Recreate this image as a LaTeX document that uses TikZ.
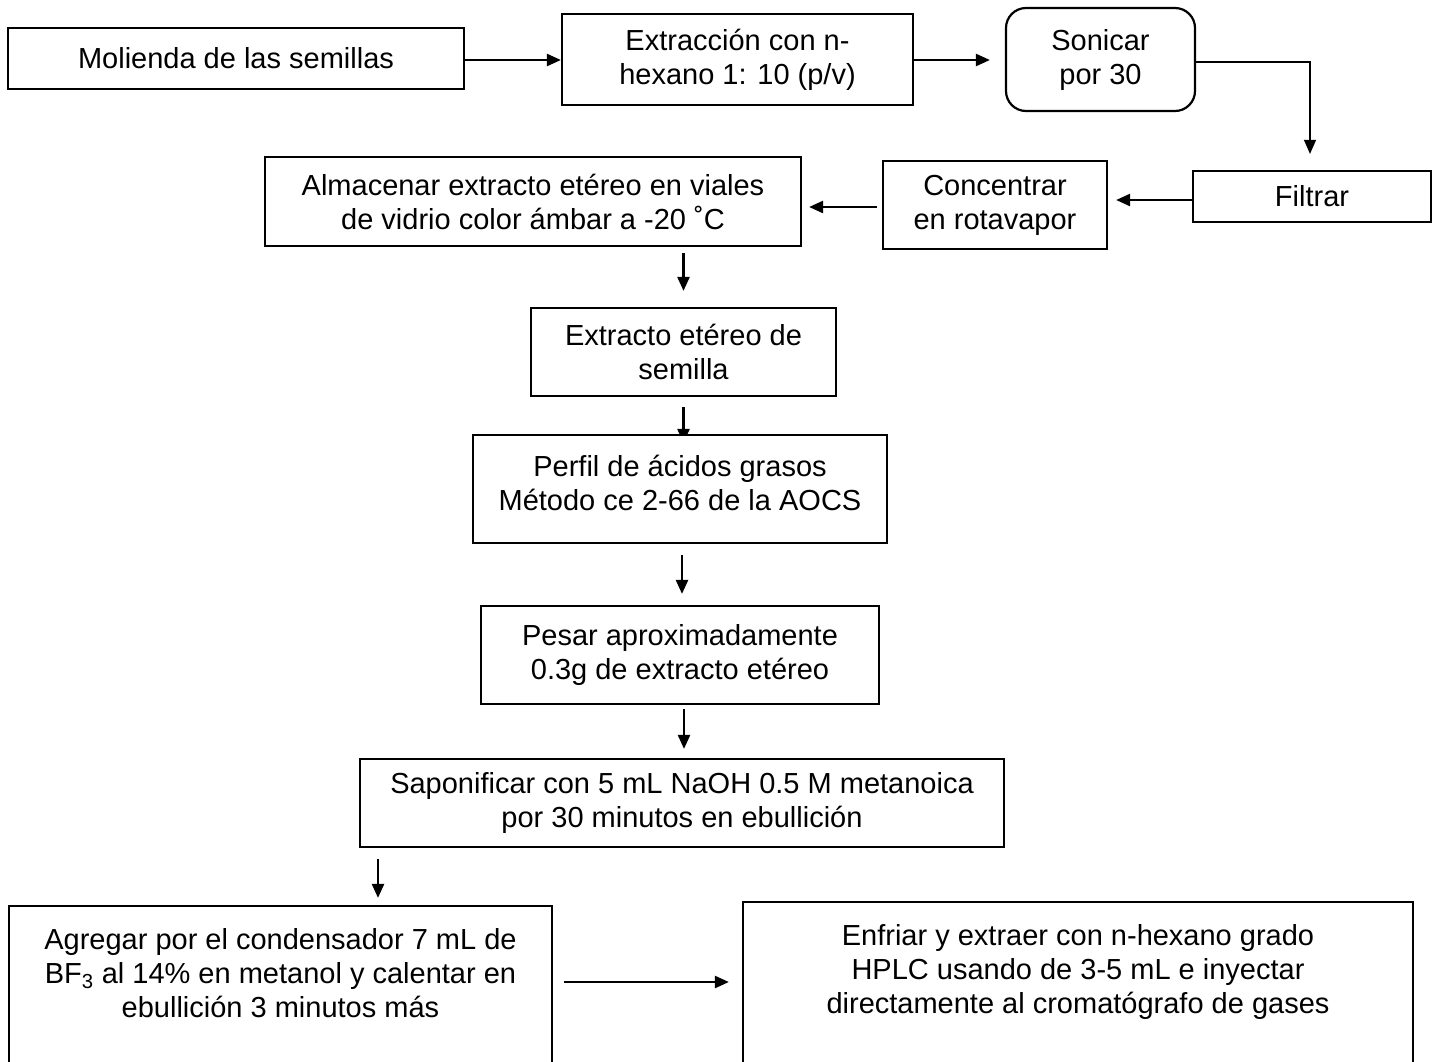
\documentclass[tikz,border=0pt]{standalone}
\usepackage{fontspec}
\setmainfont{Liberation Sans}
\usetikzlibrary{arrows.meta}
\pgfdeclarelayer{bg}
\pgfsetlayers{bg,main}
\tikzset{
  box/.style={draw, line width=2.2pt, fill=white, inner sep=0pt, align=center,
    font=\fontsize{29}{34}\selectfont},
  txt/.style={inner sep=0pt, align=center, font=\fontsize{29}{34}\selectfont},
  arr/.style={line width=2.4pt, -{Triangle[length=14pt,width=12pt]}},
  thinarr/.style={line width=1.3pt, -{Triangle[length=14pt,width=12pt]}},
}
\begin{document}
\begin{tikzpicture}[x=1pt,y=-1pt]
\useasboundingbox (0,0) rectangle (1436,1061);
\clip (0,0) rectangle (1436,1061);
% boxes
\node[box, minimum width=456pt, minimum height=61pt] (mol) at (236,58.5) {Molienda de las semillas};
\node[box, minimum width=351pt, minimum height=91pt] (ext) at (737.5,59.5) {Extracción con n-\\hexano 1: 10 (p/v)};
\node[box, rounded corners=20pt, minimum width=189pt, minimum height=103pt] (son) at (1100.5,59.5) {Sonicar\\por 30};
\node[box, minimum width=238pt, minimum height=51pt] (fil) at (1312,196.5) {Filtrar};
\node[box, minimum width=224pt, minimum height=88pt] (con) at (995,205) {Concentrar\\en rotavapor};
\node[box, minimum width=536pt, minimum height=89pt] (alm) at (533,201.5) {Almacenar extracto etéreo en viales\\de vidrio color ámbar a -20 ˚C};
\node[box, minimum width=305pt, minimum height=88pt] (etr) at (683.5,352) {Extracto etéreo de\\semilla};
\node[box, minimum width=414pt, minimum height=108pt] (per) at (680,489) {};
\node[txt] (pertxt) at (680,483) {Perfil de ácidos grasos\\Método ce 2-66 de la AOCS};
\node[box, minimum width=398pt, minimum height=98pt] (pes) at (680,655) {Pesar aproximadamente\\0.3g de extracto etéreo};
\node[box, minimum width=644pt, minimum height=88pt] (sap) at (682,803) {Saponificar con 5 mL NaOH 0.5 M metanoica\\por 30 minutos en ebullición};
\node[box, minimum width=543pt, minimum height=170pt] (agr) at (280.5,991) {};
\node[txt] (agrtxt) at (280.5,973) {Agregar por el condensador 7 mL de\\BF\textsubscript{3} al 14\% en metanol y calentar en\\ebullición 3 minutos más};
\node[box, minimum width=670pt, minimum height=174pt] (enf) at (1078,989) {};
\node[txt] (enftxt) at (1078,972) {Enfriar y extraer con n-hexano grado\\HPLC usando de 3-5 mL e inyectar\\directamente al cromatógrafo de gases};
% helper coordinates
\coordinate (c1) at (1310,62);
\coordinate (ya) at (0,982);
\coordinate (xs) at (378,0);
% connectors
\draw[arr] ([yshift=-1.5pt]mol.east) -- ([yshift=-1.5pt]mol.east -| ext.west);
\draw[arr, shorten >=15pt] ([yshift=-0.5pt]ext.east) -- ([yshift=-0.5pt]ext.east -| son.west);
\draw[thinarr, shorten >=16pt] (son.east |- c1) -- (c1) -- (c1 |- fil.north);
\draw[arr, shorten >=8pt] ([yshift=-3.5pt]fil.west) -- ([yshift=-3.5pt]fil.west -| con.east);
\draw[arr, shorten <=5pt, shorten >=7pt] ([yshift=-2pt]con.west) -- ([yshift=-2pt]con.west -| alm.east);
\draw[arr, shorten <=6pt, shorten >=16pt] (etr.north |- alm.south) -- (etr.north);
\begin{pgfonlayer}{bg}
\draw[arr, shorten <=10pt, shorten >=-9pt] (etr.south) -- (etr.south |- per.north);
\end{pgfonlayer}
\draw[arr, shorten <=11pt, shorten >=11pt] ([xshift=2pt]per.south) -- ([xshift=2pt]per.south |- pes.north);
\draw[arr, shorten <=4pt, shorten >=9pt] ([xshift=4pt]pes.south) -- ([xshift=4pt]pes.south |- sap.north);
\draw[arr, shorten <=11pt, shorten >=7pt] (xs |- sap.south) -- (xs |- agr.north);
\draw[arr, shorten <=11pt, shorten >=13pt] (agr.east |- ya) -- (enf.west |- ya);
\end{tikzpicture}
\end{document}
